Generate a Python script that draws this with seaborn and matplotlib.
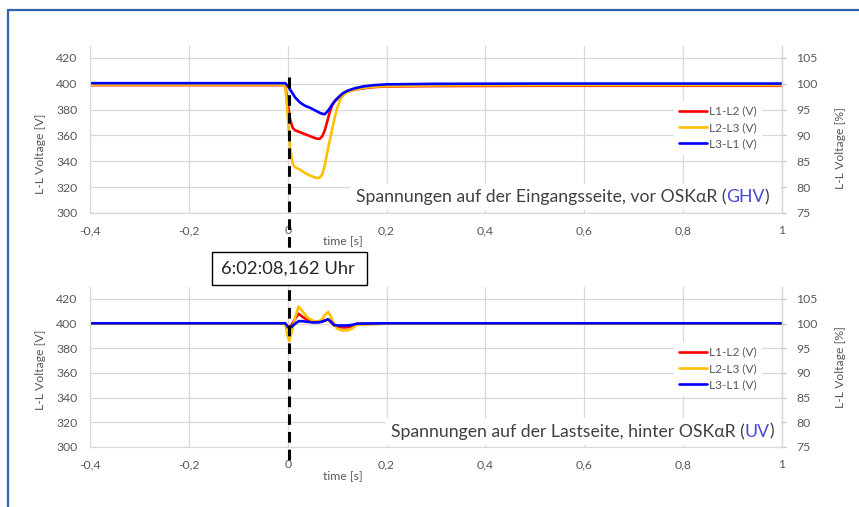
import matplotlib
matplotlib.use("Agg")
import numpy as np
import pandas as pd
import seaborn as sns
import matplotlib.pyplot as plt
from matplotlib.lines import Line2D
from matplotlib.patches import Rectangle
from matplotlib.text import Annotation

# ---------------- data ----------------
t_top = [-0.4, -0.005, 0.0, 0.005, 0.01, 0.015, 0.025, 0.035, 0.045, 0.055, 0.06, 0.065,
         0.07, 0.075, 0.08, 0.085, 0.09, 0.095, 0.1, 0.106, 0.112, 0.12, 0.135, 0.153,
         0.175, 0.2, 0.3, 0.5, 0.7, 1.0]
l1l2_top = [399.0, 399.0, 385, 372, 366, 364, 362.5, 361, 359.5, 358, 357.5, 357.5,
            359.5, 364, 371, 378, 383.5, 386.5, 388.5, 390.5, 392.5, 394, 395.5, 396.5,
            397.5, 398, 398.3, 398.5, 398.5, 398.5]
l2l3_top = [399.3, 399.3, 375, 350, 338, 335.5, 333.5, 331, 329, 327.5, 327, 327.5,
            330, 337, 347, 356, 365, 374, 381, 387.5, 391, 393.5, 395.5, 396.8,
            397.8, 398.3, 398.8, 399, 399, 399]
l3l1_top = [400.5, 400.5, 398.5, 395.5, 392.5, 389.5, 385.5, 383, 381.5, 379.5, 378.5, 377.5,
            376.8, 376.5, 378.5, 381, 384, 386.5, 388.5, 390.8, 392.8, 394.5, 396.5, 398,
            399, 399.6, 400, 400.2, 400.2, 400.2]

t_bot = [-0.4, -0.005, 0.0, 0.003, 0.008, 0.015, 0.022, 0.03, 0.04, 0.05, 0.06, 0.068,
         0.075, 0.082, 0.088, 0.094, 0.1, 0.11, 0.12, 0.13, 0.14, 0.2, 0.5, 1.0]
l1l2_bot = [400, 400, 397.5, 396.8, 399, 404, 408, 405.5, 403, 402, 401.5, 401.5,
            402.5, 403.5, 401, 398.5, 397.5, 397, 397, 398, 399.8, 400, 400, 400]
l2l3_bot = [400, 400, 390, 386, 393, 405, 414, 410, 405, 402.5, 401.5, 403,
            407, 409.5, 405, 399.5, 396, 394.5, 394.5, 396, 399, 400, 400, 400]
l3l1_bot = [400.3, 400.3, 397.5, 396.3, 397.5, 400, 402, 402, 401.5, 401, 401, 401.5,
            402.5, 403.5, 401.5, 399, 398.5, 398.5, 398.5, 399, 400, 400.3, 400.3, 400.3]

series_names = ["L1-L2 (V)", "L2-L3 (V)", "L3-L1 (V)"]
series_colors = ["#FF0000", "#FFC000", "#0000FF"]
x_ticks = [-0.4, -0.2, 0, 0.2, 0.4, 0.6, 0.8, 1]
x_tick_labels = ["-0,4", "-0,2", "0", "0,2", "0,4", "0,6", "0,8", "1"]
y_ticks = [300, 320, 340, 360, 380, 400, 420]
y2_ticks = [75, 80, 85, 90, 95, 100, 105]
title_top = ("Spannungen auf der Eingangsseite, vor OSKαR (", "GHV", ")")
title_bot = ("Spannungen auf der Lastseite, hinter OSKαR (", "UV", ")")
timestamp = "6:02:08,162 Uhr"

# ---------------- style ----------------
sns.set_theme(style="white")
plt.rcParams["font.family"] = ["Lato", "DejaVu Sans"]

W, H = 859, 507
fig = plt.figure(figsize=(W / 100, H / 100), dpi=100)
fig.patch.set_facecolor("white")


def fx(px):
    return px / W


def fy(py):
    return 1 - py / H


GRID = "#D9D9D9"
TXT = "#595959"
TICK_FS = 8.8
LAB_FS = 8.8
TITLE_FS = 12.7


def make_panel(top_px, bot_px, t, ys, title, title_x, title_box):
    ax = fig.add_axes([fx(90), fy(bot_px), fx(782) - fx(90), fy(top_px) - fy(bot_px)])
    ytop = 300 + (bot_px - top_px) / ((bot_px - (top_px + 12)) / 120.0)
    for name, col, y in zip(series_names, series_colors, ys):
        df = pd.DataFrame({"t": t, "v": y})
        sns.lineplot(data=df, x="t", y="v", ax=ax, color=col, lw=1.9, label=name,
                     estimator=None, sort=False)
    ax.set_xlim(-0.4, 1)
    ax.set_ylim(300, ytop)
    ax.set_xticks(x_ticks)
    ax.set_xticklabels(x_tick_labels)
    ax.set_yticks(y_ticks)
    ax.set_xlabel("")
    ax.set_ylabel("")
    ax.grid(True, color=GRID, lw=0.9)
    ax.set_axisbelow(True)
    ax.spines["top"].set_visible(False)
    for s in ["left", "bottom", "right"]:
        ax.spines[s].set_color(GRID)
        ax.spines[s].set_linewidth(0.9)
    ax.tick_params(axis="both", length=0, labelsize=TICK_FS, labelcolor=TXT)
    ax.tick_params(axis="y", pad=9)
    ax.tick_params(axis="x", pad=9)

    ax2 = ax.twinx()
    ax2.set_ylim(75, 75 + (ytop - 300) / 4.0)
    ax2.set_yticks(y2_ticks)
    ax2.grid(False)
    for s in ["top", "left", "bottom"]:
        ax2.spines[s].set_visible(False)
    ax2.spines["right"].set_color(GRID)
    ax2.spines["right"].set_linewidth(0.9)
    ax2.tick_params(axis="y", length=3, width=0.9, color="#BFBFBF", labelsize=TICK_FS,
                    labelcolor=TXT, pad=7)

    leg = ax.legend(loc="upper left", bbox_to_anchor=(fx(668), fy(top_px + 49)),
                    bbox_transform=fig.transFigure, frameon=True, fancybox=False,
                    framealpha=1, facecolor="white", edgecolor="white",
                    fontsize=8.6, handlelength=2.35, handletextpad=0.15,
                    labelspacing=0.45, borderpad=0.4)
    for txt in leg.get_texts():
        txt.set_color(TXT)
    for h in leg.get_lines():
        h.set_linewidth(1.9)

    # white box behind title
    bx0, by0, bx1, by1 = title_box
    fig.add_artist(Rectangle((fx(bx0), fy(by1)), fx(bx1) - fx(bx0), fy(by0) - fy(by1),
                             transform=fig.transFigure, facecolor="white",
                             edgecolor="none", zorder=3))
    ty = fy((by0 + by1) / 2)
    t1 = fig.text(fx(title_x), ty, title[0], ha="left", va="center", fontsize=TITLE_FS,
                  color="#404040", zorder=4)
    t2 = Annotation(title[1], xy=(1, 0), xycoords=t1, va="bottom", ha="left",
                    fontsize=TITLE_FS, color="#4A4AD0", zorder=4)
    fig.add_artist(t2)
    t3 = Annotation(title[2], xy=(1, 0), xycoords=t2, va="bottom", ha="left",
                    fontsize=TITLE_FS, color="#404040", zorder=4)
    fig.add_artist(t3)
    return ax, ax2


ax_top, ax2_top = make_panel(46, 213, t_top, [l1l2_top, l2l3_top, l3l1_top], title_top,
                             356, (350, 184, 781, 210))
ax_bot, ax2_bot = make_panel(287, 447, t_bot, [l1l2_bot, l2l3_bot, l3l1_bot], title_bot,
                             391, (385, 418, 781, 445))

# axis titles
for yc_l, yc_r in ((154, 148), (370, 367)):
    fig.text(fx(40), fy(yc_l), "L-L Voltage [V]", rotation=90, ha="center", va="center",
             fontsize=LAB_FS, color=TXT)
    fig.text(fx(840), fy(yc_r), "L-L Voltage [%]", rotation=90, ha="center",
             va="center", fontsize=LAB_FS, color=TXT)
for yc in (241, 476):
    fig.text(fx(343), fy(yc), "time [s]", ha="center", va="center", fontsize=LAB_FS,
             color=TXT)

# dashed marker line at t = 0
fig.add_artist(Line2D([fx(288.5), fx(288.5)], [fy(77), fy(466)], color="black", lw=2.2,
                      linestyle=(0, (3.5, 2.3)), transform=fig.transFigure, zorder=5))

# timestamp box
fig.add_artist(Rectangle((fx(212), fy(285)), fx(367) - fx(212), fy(252) - fy(285),
                         transform=fig.transFigure, facecolor="white", edgecolor="black",
                         lw=1.0, zorder=6))
fig.text(fx(288), fy(268.5), timestamp, ha="center", va="center", fontsize=13.2,
         color="#262626", zorder=7)

# outer blue frame (top and left edge)
fig.add_artist(Line2D([fx(8), 1], [fy(10), fy(10)], color="#2F62B0", lw=1.6,
                      transform=fig.transFigure, zorder=8))
fig.add_artist(Line2D([fx(8), fx(8)], [0, fy(10)], color="#2F62B0", lw=1.6,
                      transform=fig.transFigure, zorder=8))

fig.savefig("out.png", dpi=100)
